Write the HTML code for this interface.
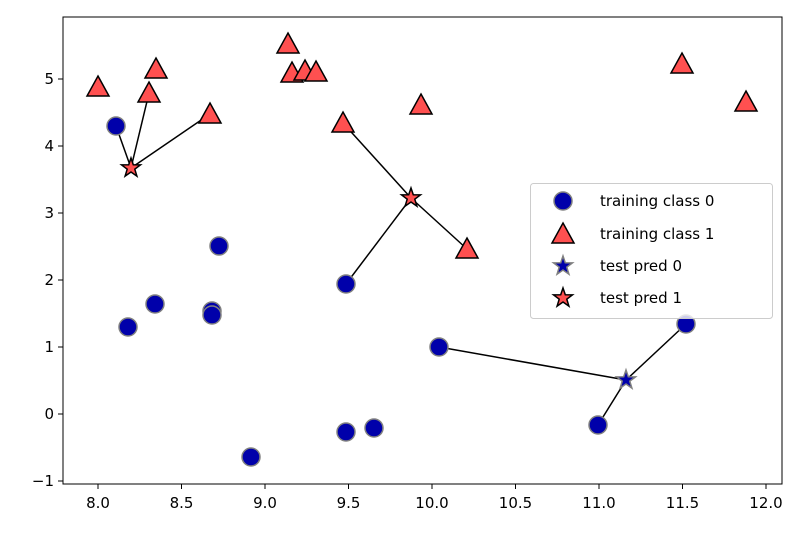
<!DOCTYPE html>
<html><head><style>body{margin:0;background:#fff}svg{display:block}text{font-family:"DejaVu Sans","Liberation Sans",sans-serif;font-size:15px;fill:#000}</style></head><body>
<svg width="800" height="537" xmlns="http://www.w3.org/2000/svg">
<defs>
<circle id="c" r="9" fill="#0000aa" stroke="#808080" stroke-width="1.5"/>
<path id="t" d="M0,-11 L11,9 L-11,9 Z" fill="#ff5050" stroke="#000" stroke-width="1.5" stroke-linejoin="miter"/>
<path id="s" d="M0,-10 L2.3,-3.2 L9.5,-3.1 L3.8,1.2 L5.9,8.1 L0,4 L-5.9,8.1 L-3.8,1.2 L-9.5,-3.1 L-2.3,-3.2 Z" stroke-width="1.5" stroke-linejoin="miter"/>
</defs>
<rect x="63" y="17" width="719" height="467" fill="#fff" stroke="#000" stroke-width="1"/>
<g stroke="#000" stroke-width="1.5">
<line x1="131" y1="168" x2="116" y2="126"/><line x1="131" y1="168" x2="149" y2="93"/><line x1="131" y1="168" x2="210" y2="114"/>
<line x1="411" y1="198" x2="343" y2="123"/><line x1="411" y1="198" x2="467" y2="249"/><line x1="411" y1="198" x2="346" y2="284"/>
<line x1="626" y1="380" x2="439" y2="347"/><line x1="626" y1="380" x2="686" y2="324"/><line x1="626" y1="380" x2="598" y2="425"/>
</g>
<g>
<use href="#c" x="116" y="126"/><use href="#c" x="219" y="246"/><use href="#c" x="155" y="304"/><use href="#c" x="128" y="327"/>
<use href="#c" x="212" y="311"/><use href="#c" x="212" y="315"/><use href="#c" x="346" y="284"/><use href="#c" x="439" y="347"/>
<use href="#c" x="686" y="324"/><use href="#c" x="598" y="425"/><use href="#c" x="346" y="432"/><use href="#c" x="374" y="428"/><use href="#c" x="251" y="457"/>
</g>
<g>
<use href="#t" x="98" y="87"/><use href="#t" x="156" y="69"/><use href="#t" x="149" y="93"/><use href="#t" x="210" y="114"/>
<use href="#t" x="288" y="44"/><use href="#t" x="292" y="73"/><use href="#t" x="305" y="71"/><use href="#t" x="316" y="72"/>
<use href="#t" x="343" y="123"/><use href="#t" x="421" y="105"/><use href="#t" x="467" y="249"/><use href="#t" x="682" y="64"/><use href="#t" x="746" y="102"/>
</g>
<use href="#s" x="131" y="168" fill="#ff5050" stroke="#000"/>
<use href="#s" x="411" y="198" fill="#ff5050" stroke="#000"/>
<use href="#s" x="626" y="380" fill="#0000aa" stroke="#808080"/>
<g stroke="#000" stroke-width="1">
<line x1="98" y1="484" x2="98" y2="489"/><line x1="181.5" y1="484" x2="181.5" y2="489"/><line x1="265" y1="484" x2="265" y2="489"/><line x1="348.5" y1="484" x2="348.5" y2="489"/><line x1="432" y1="484" x2="432" y2="489"/><line x1="515.5" y1="484" x2="515.5" y2="489"/><line x1="599" y1="484" x2="599" y2="489"/><line x1="682.5" y1="484" x2="682.5" y2="489"/><line x1="766" y1="484" x2="766" y2="489"/>
<line x1="58" y1="481" x2="63" y2="481"/><line x1="58" y1="414" x2="63" y2="414"/><line x1="58" y1="347" x2="63" y2="347"/><line x1="58" y1="280" x2="63" y2="280"/><line x1="58" y1="213" x2="63" y2="213"/><line x1="58" y1="146" x2="63" y2="146"/><line x1="58" y1="79" x2="63" y2="79"/>
</g>
<g text-anchor="middle">
<text x="98" y="508">8.0</text><text x="181.5" y="508">8.5</text><text x="265" y="508">9.0</text><text x="348.5" y="508">9.5</text><text x="432" y="508">10.0</text><text x="515.5" y="508">10.5</text><text x="599" y="508">11.0</text><text x="682.5" y="508">11.5</text><text x="766" y="508">12.0</text>
</g>
<g text-anchor="end">
<text x="54" y="486">−1</text><text x="54" y="419">0</text><text x="54" y="352">1</text><text x="54" y="285">2</text><text x="54" y="218">3</text><text x="54" y="151">4</text><text x="54" y="84">5</text>
</g>
<rect x="530.5" y="183.5" width="242" height="135" rx="3" fill="#fff" fill-opacity="0.8" stroke="#ccc"/>
<use href="#c" x="563" y="201"/>
<use href="#t" x="563" y="234"/>
<use href="#s" x="563" y="266" fill="#0000aa" stroke="#808080"/>
<use href="#s" x="563" y="298" fill="#ff5050" stroke="#000"/>
<g style="font-size:16px">
<text x="600" y="206">training class 0</text>
<text x="600" y="239">training class 1</text>
<text x="600" y="271">test pred 0</text>
<text x="600" y="303">test pred 1</text>
</g>
</svg>
</body></html>
